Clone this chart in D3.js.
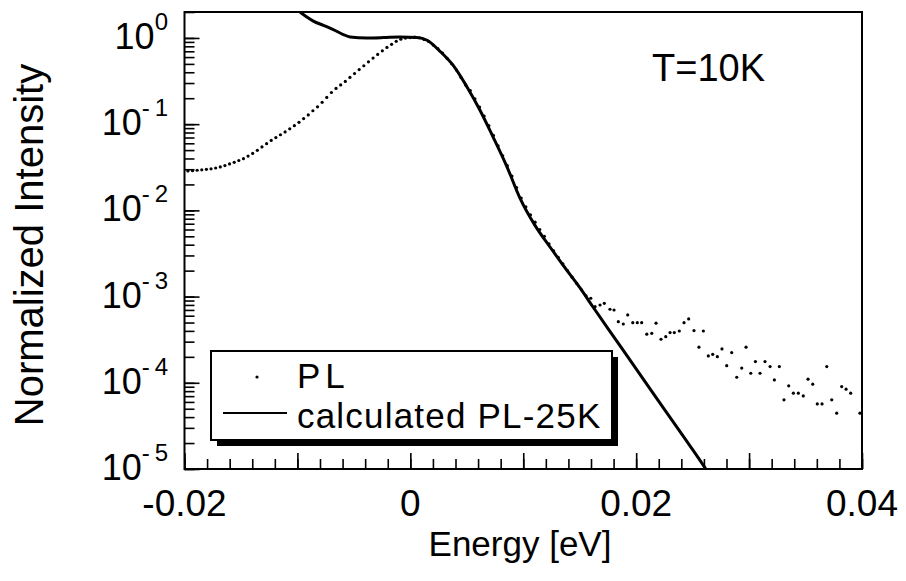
<!DOCTYPE html>
<html lang="en">
  <head>
    <meta charset="UTF-8" />
    <title>Normalized PL intensity</title>
    <style>
      body { margin: 0; background: #fff; }
      text { font-family: "Liberation Sans", Arial, sans-serif; fill: #000; }
    </style>
  </head>
  <body>
    <script src="https://d3js.org/d3.v7.min.js"></script>
    <script>
      // measured PL (dots)
      const plEnergy = [
        -0.01970, -0.01929, -0.01888, -0.01847, -0.01806, -0.01765, -0.01724, -0.01683, -0.01642, -0.01601,
        -0.01560, -0.01519, -0.01478, -0.01437, -0.01396, -0.01355, -0.01314, -0.01273, -0.01232, -0.01191,
        -0.01150, -0.01109, -0.01068, -0.01027, -0.00986, -0.00945, -0.00904, -0.00863, -0.00822, -0.00781,
        -0.00740, -0.00699, -0.00658, -0.00617, -0.00576, -0.00535, -0.00494, -0.00453, -0.00412, -0.00371,
        -0.00330, -0.00289, -0.00248, -0.00207, -0.00166, -0.00125, -0.00084, -0.00043, -0.00002, 0.00039,
        0.00080, 0.00121, 0.00162, 0.00203, 0.00244, 0.00285, 0.00326, 0.00367, 0.00408, 0.00449,
        0.00490, 0.00531, 0.00572, 0.00613, 0.00654, 0.00695, 0.00736, 0.00777, 0.00818, 0.00859,
        0.00900, 0.00941, 0.00982, 0.01023, 0.01064, 0.01105, 0.01146, 0.01187, 0.01228, 0.01269,
        0.01310, 0.01351, 0.01392, 0.01433, 0.01474, 0.01515, 0.01556,
        0.01598, 0.01636, 0.01680, 0.01718, 0.01768, 0.01804, 0.01842, 0.01886, 0.01925, 0.01970,
        0.02010, 0.02049, 0.02094, 0.02138, 0.02176, 0.02220, 0.02262, 0.02300, 0.02338, 0.02382,
        0.02424, 0.02465, 0.02512, 0.02556, 0.02595, 0.02639, 0.02678, 0.02719, 0.02760, 0.02802,
        0.02846, 0.02891, 0.02935, 0.02973, 0.03015, 0.03056, 0.03097, 0.03141, 0.03186, 0.03224,
        0.03268, 0.03309, 0.03351, 0.03392, 0.03436, 0.03480, 0.03522, 0.03564, 0.03604, 0.03646,
        0.03688, 0.03732, 0.03776, 0.03820, 0.03859, 0.03900, 0.03982
      ]
      const plIntensity = [
        2.87e-2, 2.89e-2, 2.92e-2, 2.95e-2, 2.99e-2, 3.03e-2, 3.10e-2, 3.19e-2, 3.31e-2, 3.46e-2,
        3.61e-2, 3.79e-2, 3.98e-2, 4.26e-2, 4.58e-2, 4.97e-2, 5.44e-2, 5.94e-2, 6.47e-2, 6.99e-2,
        7.54e-2, 8.12e-2, 8.84e-2, 9.61e-2, 0.105, 0.116, 0.128, 0.143, 0.159, 0.179,
        0.204, 0.233, 0.260, 0.285, 0.313, 0.348, 0.387, 0.430, 0.476, 0.528,
        0.585, 0.644, 0.709, 0.776, 0.843, 0.913, 0.966, 0.997, 1.01, 1.02,
        1.005, 0.961, 0.911, 0.827, 0.754, 0.667, 0.579, 0.502, 0.425, 0.347,
        0.285, 0.245, 0.197, 0.158, 0.124, 9.6e-2, 7.4e-2, 5.6e-2, 4.3e-2, 3.3e-2,
        2.5e-2, 1.84e-2, 1.39e-2, 1.10e-2, 8.9e-3, 7.3e-3, 6.0e-3, 5.0e-3, 4.1e-3, 3.4e-3,
        2.85e-3, 2.4e-3, 2.0e-3, 1.68e-3, 1.42e-3, 1.2e-3, 1.02e-3,
        9.56e-4, 7.64e-4, 7.99e-4, 8.36e-4, 7.13e-4, 6.99e-4, 5.12e-4, 4.81e-4, 6.12e-4, 4.98e-4,
        4.98e-4, 4.98e-4, 3.66e-4, 3.75e-4, 4.91e-4, 3.20e-4, 3.43e-4, 3.82e-4, 3.82e-4, 3.99e-4,
        4.98e-4, 5.50e-4, 4.03e-4, 2.59e-4, 3.99e-4, 2.05e-4, 2.14e-4, 2.01e-4, 2.47e-4, 1.58e-4,
        2.24e-4, 1.16e-4, 1.48e-4, 2.59e-4, 1.29e-4, 1.76e-4, 1.29e-4, 1.76e-4, 1.54e-4, 1.08e-4,
        1.54e-4, 6.34e-5, 9.21e-5, 7.58e-5, 7.58e-5, 7.05e-5, 1.10e-4, 9.63e-5, 5.69e-5, 5.69e-5,
        1.54e-4, 6.34e-5, 4.44e-5, 9.04e-5, 8.43e-5, 7.58e-5, 4.44e-5
      ]

      // calculated PL-25K (solid line)
      const calcEnergy = [
        -0.00977, -0.00917, -0.00859, -0.00770, -0.00682, -0.00593, -0.00534, -0.00386, -0.00239, -0.00091,
        0.00057, 0.00148, 0.00263, 0.00378, 0.00502, 0.00617, 0.00732, 0.00856, 0.00971, 0.01104,
        0.01237, 0.01352, 0.01503, 0.01618, 0.01830, 0.02123, 0.02415, 0.02610, 0.02625
      ]
      const calcIntensity = [
        2.0, 1.75, 1.57, 1.40, 1.25, 1.095, 1.027, 1.0, 1.01, 1.027,
        1.01, 0.94, 0.70, 0.483, 0.270, 0.145, 7.13e-2, 3.20e-2, 1.39e-2, 6.7e-3,
        3.76e-3, 2.32e-3, 1.26e-3, 7.57e-4, 3.02e-4, 8.5e-5, 2.42e-5, 1.03e-5, 9.6e-6
      ]

      const xLabelValues = [-0.02, 0, 0.02, 0.04]
      const xLabels = ["-0.02", "0", "0.02", "0.04"]
      const xMajorTicks = [-0.02, -0.01, 0, 0.01, 0.02, 0.03, 0.04]
      const yDecades = [1, 1e-1, 1e-2, 1e-3, 1e-4, 1e-5]
      const yExponents = ["0", "-\u20091", "-\u20092", "-\u20093", "-\u20094", "-\u20095"]

      const width = 906
      const height = 581
      const m = { left: 184.5, right: 862, top: 12, bottom: 469 }

      const svg = d3.select("body").append("svg")
        .attr("width", width)
        .attr("height", height)

      const x = d3.scaleLinear().domain([-0.02, 0.04]).range([m.left, m.right])
      const y = d3.scaleLog().domain([1e-5, 2]).range([m.bottom, m.top])

      svg.append("clipPath").attr("id", "plot")
        .append("rect")
        .attr("x", m.left).attr("y", m.top)
        .attr("width", m.right - m.left).attr("height", m.bottom - m.top)

      // ticks, pointing inward
      const tickStyle = g => {
        g.select(".domain").remove()
        g.selectAll(".tick line").attr("stroke", "#000").attr("stroke-width", 1.6)
        g.selectAll(".tick text").remove()
      }
      svg.append("g").attr("transform", `translate(0,${m.bottom})`)
        .call(d3.axisBottom(x).tickValues(x.ticks(30)).tickSize(-10)).call(tickStyle)
      svg.append("g").attr("transform", `translate(0,${m.bottom})`)
        .call(d3.axisBottom(x).tickValues(xMajorTicks).tickSize(-16)).call(tickStyle)
      svg.append("g").attr("transform", `translate(${m.left},0)`)
        .call(d3.axisLeft(y).tickValues(y.ticks().filter(v => v <= 2)).tickSize(-10)).call(tickStyle)
      svg.append("g").attr("transform", `translate(${m.left},0)`)
        .call(d3.axisLeft(y).tickValues(yDecades).tickSize(-15)).call(tickStyle)

      // frame
      svg.append("rect")
        .attr("x", m.left).attr("y", m.top)
        .attr("width", m.right - m.left).attr("height", m.bottom - m.top)
        .attr("fill", "none").attr("stroke", "#000").attr("stroke-width", 2)

      // tick labels
      svg.selectAll(".xlab").data(xLabelValues).enter().append("text")
        .attr("x", d => x(d)).attr("y", m.bottom + 47)
        .attr("text-anchor", "middle").attr("font-size", 37)
        .text((d, i) => xLabels[i])

      const ylab = svg.selectAll(".ylab").data(yDecades).enter().append("text")
        .attr("x", 168).attr("y", d => y(d) + 11)
        .attr("text-anchor", "end").attr("font-size", 36)
      ylab.append("tspan").text("10")
      ylab.append("tspan").attr("dy", -19).attr("font-size", 24).text((d, i) => yExponents[i])

      // axis titles
      svg.append("text")
        .attr("x", 520).attr("y", 556)
        .attr("text-anchor", "middle").attr("font-size", 35)
        .text("Energy [eV]")
      svg.append("text")
        .attr("transform", "translate(43,245) rotate(-90)")
        .attr("text-anchor", "middle").attr("font-size", 40)
        .text("Normalized Intensity")

      svg.append("text")
        .attr("x", 652).attr("y", 81)
        .attr("font-size", 38)
        .text("T=10K")

      const plot = svg.append("g").attr("clip-path", "url(#plot)")

      const line = d3.line()
        .x((d, i) => x(calcEnergy[i]))
        .y(d => y(d))
        .curve(d3.curveMonotoneX)
      plot.append("path")
        .datum(calcIntensity)
        .attr("d", line)
        .attr("fill", "none")
        .attr("stroke", "#000")
        .attr("stroke-width", 3)

      plot.selectAll("circle")
        .data(plIntensity)
        .enter()
        .append("circle")
        .attr("cx", (d, i) => x(plEnergy[i]))
        .attr("cy", d => y(d))
        .attr("r", 1.6)
        .attr("fill", "#000")

      // legend with drop shadow
      const lg = { x: 211, y: 351, w: 401, h: 89 }
      svg.append("rect")
        .attr("x", lg.x + 6).attr("y", lg.y + 6)
        .attr("width", lg.w).attr("height", lg.h)
        .attr("fill", "#000")
      svg.append("rect")
        .attr("x", lg.x).attr("y", lg.y)
        .attr("width", lg.w).attr("height", lg.h)
        .attr("fill", "#fff").attr("stroke", "#000").attr("stroke-width", 2)
      svg.append("circle")
        .attr("cx", 257).attr("cy", 377).attr("r", 1.6).attr("fill", "#000")
      svg.append("line")
        .attr("x1", 223).attr("x2", 287).attr("y1", 413).attr("y2", 413)
        .attr("stroke", "#000").attr("stroke-width", 2)
      svg.append("text")
        .attr("x", 297).attr("y", 388)
        .attr("font-size", 35).attr("letter-spacing", 5)
        .text("PL")
      svg.append("text")
        .attr("x", 297).attr("y", 428)
        .attr("font-size", 35).attr("letter-spacing", 1.2)
        .text("calculated PL-25K")
    </script>
  </body>
</html>
